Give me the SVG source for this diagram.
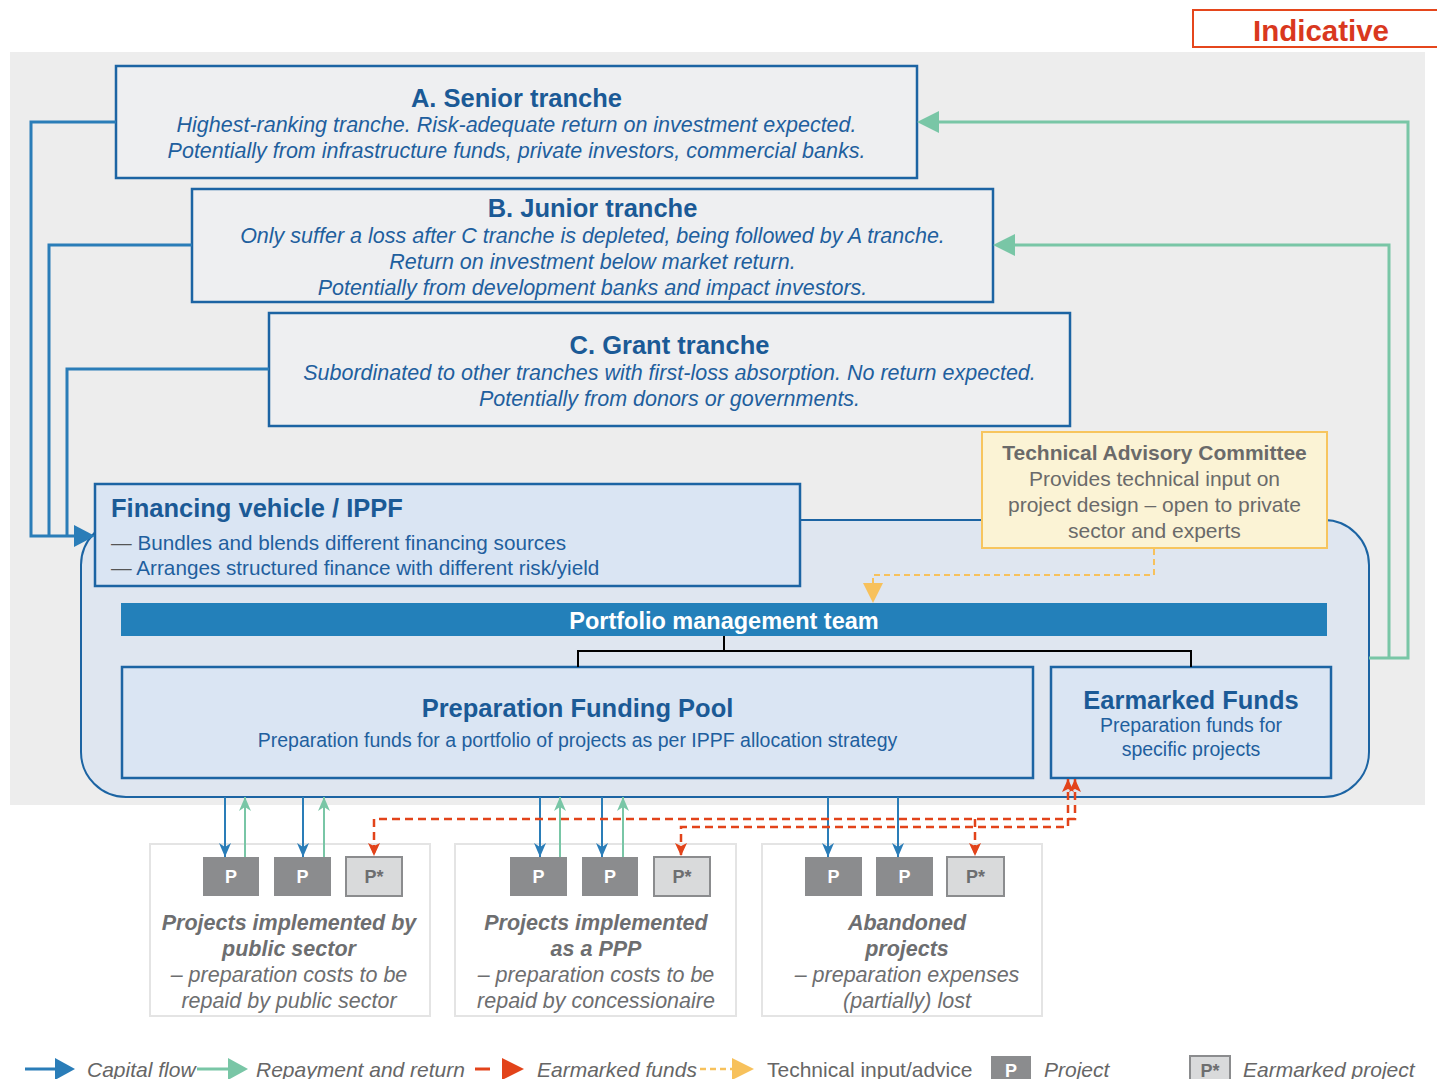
<svg xmlns="http://www.w3.org/2000/svg" width="1437" height="1079" viewBox="0 0 1437 1079">
<style>
text{font-family:"Liberation Sans",Arial,Helvetica,sans-serif}
.tr{fill:#eeeff1;stroke:#1c64a3;stroke-width:2.5}
.lb{fill:#dae5f3;stroke:#1c64a3;stroke-width:2.5}
.ttl{font-weight:bold;font-size:25.5px;fill:#1b5a96}
.it{font-style:italic;font-size:21.5px;fill:#1f5f9e}
.bl{font-size:20.7px;fill:#1f5f9e}
.sm{font-size:19.5px;fill:#1f5f9e}
.tac{font-size:21px;fill:#6a6a6a}
.pb{fill:#8b8c8e}
.ps{fill:#d9dadb;stroke:#8b8c8e;stroke-width:2}
.pt{font-weight:bold;font-size:18px;fill:#ffffff}
.pst{font-weight:bold;font-size:18px;fill:#6d6e70}
.prj{fill:#ffffff;stroke:#e4e4e4;stroke-width:2}
.pbi{font-weight:bold;font-style:italic;font-size:21.5px;fill:#6d6e70}
.pi{font-style:italic;font-size:21.5px;fill:#6d6e70}
.lg{font-style:italic;font-size:21px;fill:#666666}
.blue{fill:none;stroke:#2a7db8;stroke-width:3}
.green{fill:none;stroke:#79c6a6;stroke-width:3}
.bsm{fill:none;stroke:#2a7db8;stroke-width:2}
.gsm{fill:none;stroke:#79c6a6;stroke-width:2}
.red{fill:none;stroke:#e2431a;stroke-width:2.5;stroke-dasharray:8 5}
.yel{fill:none;stroke:#f7c15c;stroke-width:2;stroke-dasharray:6 4}
</style>
<defs>
<marker id="mb" markerUnits="userSpaceOnUse" markerWidth="14" markerHeight="14" viewBox="0 0 14 14" refX="14" refY="7" orient="auto"><path d="M0,1 L14,7 L0,13 L4,7 z" fill="#2a7db8"/></marker>
<marker id="mg" markerUnits="userSpaceOnUse" markerWidth="14" markerHeight="14" viewBox="0 0 14 14" refX="14" refY="7" orient="auto"><path d="M0,1 L14,7 L0,13 L4,7 z" fill="#79c6a6"/></marker>
<marker id="mr" markerUnits="userSpaceOnUse" markerWidth="14" markerHeight="14" viewBox="0 0 14 14" refX="13" refY="7" orient="auto-start-reverse"><path d="M0,1 L13,7 L0,13 L3,7 z" fill="#e2431a"/></marker>
</defs>

<rect x="0" y="0" width="1437" height="1079" fill="#ffffff"/>
<rect id="background" x="10" y="52" width="1415" height="753" fill="#ededed"/>

<g id="indicative">
<rect x="1193" y="10" width="250" height="37" fill="#ffffff" stroke="#e5461c" stroke-width="2"/>
<text x="1321" y="41" text-anchor="middle" font-weight="bold" font-size="29.5" fill="#d9381e">Indicative</text>
</g>

<g id="container">
<rect x="81" y="520" width="1288" height="277" rx="45" ry="45" fill="#dfe6f0" stroke="#1c64a3" stroke-width="2"/>
</g>

<g id="senior-tranche">
<rect class="tr" x="116" y="66" width="801" height="112"/>
<text class="ttl" x="516.5" y="107" text-anchor="middle">A. Senior tranche</text>
<text class="it" x="516.5" y="132" text-anchor="middle">Highest-ranking tranche. Risk-adequate return on investment expected.</text>
<text class="it" x="516.5" y="158" text-anchor="middle">Potentially from infrastructure funds, private investors, commercial banks.</text>
</g>

<g id="junior-tranche">
<rect class="tr" x="192" y="189" width="801" height="113"/>
<text class="ttl" x="592.5" y="217" text-anchor="middle">B. Junior tranche</text>
<text class="it" x="592.5" y="243" text-anchor="middle">Only suffer a loss after C tranche is depleted, being followed by A tranche.</text>
<text class="it" x="592.5" y="269" text-anchor="middle">Return on investment below market return.</text>
<text class="it" x="592.5" y="295" text-anchor="middle">Potentially from development banks and impact investors.</text>
</g>

<g id="grant-tranche">
<rect class="tr" x="269" y="313" width="801" height="113"/>
<text class="ttl" x="669.5" y="354" text-anchor="middle">C. Grant tranche</text>
<text class="it" x="669.5" y="380" text-anchor="middle">Subordinated to other tranches with first-loss absorption. No return expected.</text>
<text class="it" x="669.5" y="406" text-anchor="middle">Potentially from donors or governments.</text>
</g>

<g id="tac">
<rect x="982" y="432" width="345" height="116" fill="#fbf3d5" stroke="#f7c55e" stroke-width="2"/>
<text class="tac" x="1154.5" y="460" text-anchor="middle" font-weight="bold">Technical Advisory Committee</text>
<text class="tac" x="1154.5" y="486" text-anchor="middle">Provides technical input on</text>
<text class="tac" x="1154.5" y="512" text-anchor="middle">project design – open to private</text>
<text class="tac" x="1154.5" y="538" text-anchor="middle">sector and experts</text>
</g>

<g id="financing-vehicle">
<rect class="lb" x="95" y="484" width="705" height="102"/>
<text class="ttl" x="111" y="517">Financing vehicle / IPPF</text>
<text class="bl" x="111" y="550"><tspan fill="#555555">—</tspan> Bundles and blends different financing sources</text>
<text class="bl" x="111" y="575"><tspan fill="#555555">—</tspan> Arranges structured finance with different risk/yield</text>
</g>

<g id="portfolio-team">
<rect x="121" y="603" width="1206" height="33" fill="#2380ba"/>
<text x="724" y="629" text-anchor="middle" font-weight="bold" font-size="23.5" fill="#ffffff">Portfolio management team</text>
</g>

<g id="preparation-pool">
<rect class="lb" x="122" y="667" width="911" height="111"/>
<text class="ttl" x="577.5" y="717" text-anchor="middle">Preparation Funding Pool</text>
<text class="sm" x="577.5" y="747" text-anchor="middle">Preparation funds for a portfolio of projects as per IPPF allocation strategy</text>
</g>

<g id="earmarked-funds">
<rect class="lb" x="1051" y="667" width="280" height="111"/>
<text class="ttl" x="1191" y="709" text-anchor="middle">Earmarked Funds</text>
<text class="sm" x="1191" y="732" text-anchor="middle">Preparation funds for</text>
<text class="sm" x="1191" y="756" text-anchor="middle">specific projects</text>
</g>

<g id="public-projects">
<rect class="prj" x="150" y="844" width="280" height="172"/>
<rect class="pb" x="203" y="857" width="56" height="39"/>
<text class="pt" x="231" y="883" text-anchor="middle">P</text>
<rect class="pb" x="274" y="857" width="57" height="39"/>
<text class="pt" x="302.5" y="883" text-anchor="middle">P</text>
<rect class="ps" x="346" y="857" width="56" height="39"/>
<text class="pst" x="374" y="883" text-anchor="middle">P*</text>
<text class="pbi" x="289" y="930" text-anchor="middle">Projects implemented by</text>
<text class="pbi" x="289" y="956" text-anchor="middle">public sector</text>
<text class="pi" x="289" y="982" text-anchor="middle">– preparation costs to be</text>
<text class="pi" x="289" y="1008" text-anchor="middle">repaid by public sector</text>
</g>

<g id="ppp-projects">
<rect class="prj" x="455" y="844" width="281" height="172"/>
<rect class="pb" x="510" y="857" width="57" height="39"/>
<text class="pt" x="538.5" y="883" text-anchor="middle">P</text>
<rect class="pb" x="582" y="857" width="56" height="39"/>
<text class="pt" x="610" y="883" text-anchor="middle">P</text>
<rect class="ps" x="654" y="857" width="56" height="39"/>
<text class="pst" x="682" y="883" text-anchor="middle">P*</text>
<text class="pbi" x="596" y="930" text-anchor="middle">Projects implemented</text>
<text class="pbi" x="596" y="956" text-anchor="middle">as a PPP</text>
<text class="pi" x="596" y="982" text-anchor="middle">– preparation costs to be</text>
<text class="pi" x="596" y="1008" text-anchor="middle">repaid by concessionaire</text>
</g>

<g id="abandoned-projects">
<rect class="prj" x="762" y="844" width="280" height="172"/>
<rect class="pb" x="805" y="857" width="57" height="39"/>
<text class="pt" x="833.5" y="883" text-anchor="middle">P</text>
<rect class="pb" x="876" y="857" width="57" height="39"/>
<text class="pt" x="904.5" y="883" text-anchor="middle">P</text>
<rect class="ps" x="947" y="857" width="57" height="39"/>
<text class="pst" x="975.5" y="883" text-anchor="middle">P*</text>
<text class="pbi" x="907" y="930" text-anchor="middle">Abandoned</text>
<text class="pbi" x="907" y="956" text-anchor="middle">projects</text>
<text class="pi" x="907" y="982" text-anchor="middle">– preparation expenses</text>
<text class="pi" x="907" y="1008" text-anchor="middle">(partially) lost</text>
</g>

<g id="connectors">
<path class="blue" d="M116,122 H31 V536 H78"/>
<path class="blue" d="M192,245 H49 V536"/>
<path class="blue" d="M269,369 H67 V536"/>
<polygon points="74,525 95,536 74,547" fill="#2a7db8"/>
<path class="green" d="M936,122 H1408 V658 H1369"/>
<path class="green" d="M1012,245 H1389 V658"/>
<polygon points="939,111 917,122 939,133" fill="#79c6a6"/>
<polygon points="1015,234 993,245 1015,256" fill="#79c6a6"/>
<path class="yel" d="M1154,549 V575 H873 V585"/>
<polygon points="863,583 873,603 883,583" fill="#f7c15c"/>
<path d="M724,636 V651 M578,667 V651 H1191 V667" fill="none" stroke="#000000" stroke-width="2"/>
<path class="bsm" d="M225,797 V857" marker-end="url(#mb)"/>
<path class="bsm" d="M303,797 V857" marker-end="url(#mb)"/>
<path class="bsm" d="M540,797 V857" marker-end="url(#mb)"/>
<path class="bsm" d="M602,797 V857" marker-end="url(#mb)"/>
<path class="bsm" d="M828,797 V857" marker-end="url(#mb)"/>
<path class="bsm" d="M898,797 V857" marker-end="url(#mb)"/>
<path class="gsm" d="M245,857 V797" marker-end="url(#mg)"/>
<path class="gsm" d="M324,857 V797" marker-end="url(#mg)"/>
<path class="gsm" d="M560,857 V797" marker-end="url(#mg)"/>
<path class="gsm" d="M623,857 V797" marker-end="url(#mg)"/>
<path class="red" d="M1075,779 V819 H374 V856" marker-start="url(#mr)" marker-end="url(#mr)"/>
<path class="red" d="M1068,779 V827 H681 V856" marker-start="url(#mr)" marker-end="url(#mr)"/>
<path class="red" d="M975,819 V856" marker-end="url(#mr)"/>
</g>

<g id="legend">
<path d="M25,1069 H58" stroke="#2a7db8" stroke-width="3"/>
<polygon points="55,1058 75,1069 55,1080" fill="#2a7db8"/>
<text class="lg" x="87" y="1077">Capital flow</text>
<path d="M197,1069 H230" stroke="#79c6a6" stroke-width="3"/>
<polygon points="228,1058 248,1069 228,1080" fill="#79c6a6"/>
<text class="lg" x="256" y="1077">Repayment and return</text>
<path d="M475,1069 H490" stroke="#e2431a" stroke-width="3"/>
<polygon points="502,1058 524,1069 502,1080" fill="#e2431a"/>
<text class="lg" x="537" y="1077">Earmarked funds</text>
<path d="M700,1069 H733" stroke="#f7c15c" stroke-width="2.5" stroke-dasharray="6 4"/>
<polygon points="732,1058 754,1069 732,1080" fill="#f7c15c"/>
<text x="767" y="1077" font-size="21" fill="#666666">Technical input/advice</text>
<rect class="pb" x="991" y="1056" width="40" height="26"/>
<text class="pt" x="1011" y="1077" text-anchor="middle">P</text>
<text class="lg" x="1044" y="1077">Project</text>
<rect class="ps" x="1190" y="1056" width="40" height="26"/>
<text class="pst" x="1210" y="1077" text-anchor="middle">P*</text>
<text class="lg" x="1243" y="1077">Earmarked project</text>
</g>
</svg>
